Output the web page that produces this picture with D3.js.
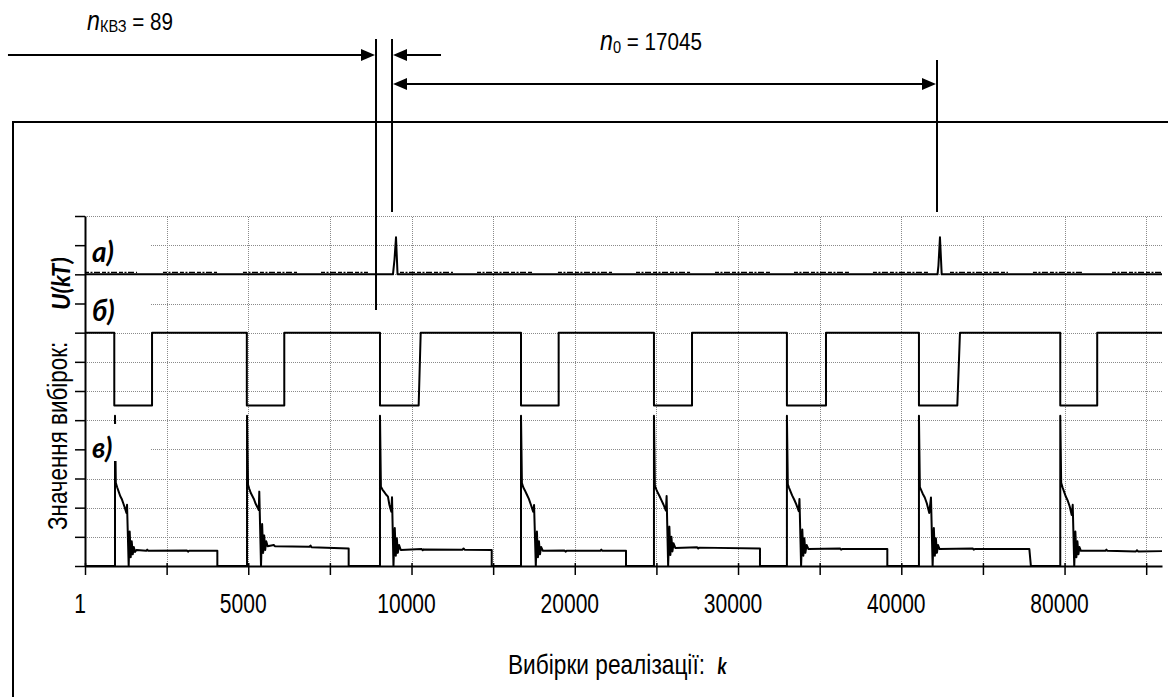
<!DOCTYPE html>
<html>
<head>
<meta charset="utf-8">
<script src="https://cdn.jsdelivr.net/npm/d3@7"></script>
<style>
body { margin: 0; background: #fff; }
svg { display: block; }
text { font-family: "Liberation Sans", Arial, sans-serif; fill: #000; }
.lab { font-family: Lato, "Open Sans", sans-serif; font-weight: bold; font-style: italic; }
</style>
</head>
<body>
<svg id="chart" width="1168" height="697"></svg>
<script>
// x: sample position (80 units per grid cell), y: grid cells
var xGrid = [0, 80, 160, 240, 320, 400, 480, 560, 640, 720, 800, 880, 960, 1040];
var xLabelPos = [0, 160, 320, 480, 640, 800, 960];
var xLabels = ["1", "5000", "10000", "20000", "30000", "40000", "80000"];
var yGrid = [0, 1, 2, 3, 4, 5, 6, 7, 8, 9, 10, 11, 12];

// а) pulse signal
var seriesA = [[0,10],[301.8,10],[303.3,10.5],[304.8,11.27],[306.3,10],
  [835.5,10],[836.4,10.3],[837.9,11.27],[839.6,10],[1055.5,10]];
// а) small noise stretches just above the baseline
var noiseA = [[0,51],[76.4,129.4],[154.8,207.8],[231.3,277.3],[308.7,360.6],[384.2,439],
  [463.5,516.5],[540,593],[617.4,671.3],[694.8,749.7],[772.2,826.1],[847.7,904.5],[929,978],[1006.5,1055.5]];

// б) gate signal
var seriesB = [[0,8],[28.7,8],[28.7,5.5],[65.7,5.5],[65.7,8],[158.6,8],[158.6,5.5],[195.3,5.5],[195.3,8],
  [289.1,8],[289.1,5.5],[327,5.5],[329,8],[427.3,8],[427.3,5.5],[464.2,5.5],[464.2,8],
  [557.6,8],[557.6,5.5],[594.9,5.5],[594.9,8],[687.9,8],[687.9,5.5],[726.2,5.5],[726.2,8],
  [817.3,8],[817.3,5.5],[854.9,5.5],[857.5,8],[955.8,8],[955.8,5.5],[992,5.5],[992,8],[1055.5,8]];

// в) response
var seriesC = [[0,0],[29.4,0],[29.4,5.15],[30.2,2.85],[31.5,2.7],[33,2.55],[34.5,2.4],[36,2.3],[37.5,2.15],[39,2],
  [40.6,1.82],[41.2,2.1],[42.8,0],[43.8,1.18],[44.8,0.3],[45.8,0.85],[46.8,0.4],[47.8,0.65],[49,0.48],[50.5,0.55],
  [60,0.52],[61,0.56],[62,0.52],[100,0.53],[101,0.49],[102,0.52],[129.7,0.52],[129.7,0],
  [158.8,0],[158.8,5.15],[159.8,2.78],[161,2.65],[162.5,2.5],[164,2.4],[165.5,2.3],[167,2.15],[168.5,2.05],[170.3,1.92],
  [170.8,2.55],[172.5,0],[173.6,1.44],[174.6,0.45],[175.6,1.05],[176.6,0.55],[177.6,0.85],[179,0.68],[185,0.72],[186,0.68],
  [220,0.66],[221,0.7],[222,0.64],[258.4,0.6],[258.4,0],
  [289.1,0],[289.1,5.15],[290,2.72],[291.5,2.62],[293,2.55],[295,2.45],[296.9,2.38],[298.3,2.1],[300.2,1.86],
  [300.9,2.36],[302.3,0],[303.6,1.3],[304.6,0.35],[305.6,0.95],[306.6,0.45],[307.8,0.72],[309.5,0.55],
  [330,0.58],[331,0.54],[332,0.57],[370,0.56],[371,0.6],[372,0.56],[398.6,0.55],[398.6,0],
  [427.3,0],[427.3,5.15],[428.2,2.84],[429.5,2.7],[431,2.6],[433,2.45],[435,2.3],[437,2.1],[439.2,1.86],
  [440.1,2.09],[441.8,0],[442.9,1.18],[443.9,0.3],[444.9,0.85],[445.9,0.4],[447,0.65],[448.8,0.52],
  [470,0.53],[471,0.49],[472,0.52],[505,0.52],[506,0.56],[507,0.52],[530.2,0.52],[530.2,0],
  [557.6,0],[557.6,5.15],[558.5,2.75],[560,2.62],[561.5,2.5],[563,2.4],[565,2.25],[567,2.1],[569.3,1.9],
  [570,2.4],[571.5,0],[572.7,1.35],[573.7,0.38],[574.7,1],[575.7,0.5],[576.8,0.78],[578.5,0.62],
  [600,0.64],[601,0.6],[602,0.63],[661.5,0.6],[661.5,0],
  [687.9,0],[687.9,5.15],[688.8,2.8],[690,2.68],[691.5,2.55],[693,2.42],[695,2.28],[697,2.12],[699.5,1.88],
  [700.2,2.3],[701.8,0],[703,1.25],[704,0.35],[705,0.95],[706,0.45],[707.2,0.72],[709,0.58],
  [740,0.6],[741,0.56],[742,0.58],[786.3,0.58],[786.3,0],
  [817.3,0],[817.3,5.15],[818.2,2.7],[819.5,2.6],[821,2.48],[823,2.35],[825,2.15],[827.4,1.82],
  [829.1,2.35],[830.7,0],[831.9,1.3],[832.9,0.35],[833.9,0.95],[834.9,0.45],[836,0.72],[837.5,0.58],
  [870,0.6],[871,0.56],[872,0.58],[925.5,0.58],[927,0],
  [955.8,0],[955.8,5.15],[956.7,2.85],[958,2.7],[959.5,2.55],[961,2.4],[963,2.25],[965,2.05],[967,1.75],
  [968,2.1],[969.5,0],[970.6,1.18],[971.6,0.3],[972.6,0.85],[973.6,0.4],[974.6,0.65],[976,0.52],
  [1000,0.52],[1001,0.56],[1002,0.52],[1030,0.5],[1031,0.54],[1032,0.5],[1055.5,0.51]];

// panel labels: text, baseline (grid units), white box [top, bottom]
var panelLabels = [["а)", 10.42, 11.45, 10.28], ["б)", 8.4, 9.46, 8.36], ["в)", 3.7, 4.87, 3.6]];

// dimension lines above the chart
var nKVZ = 89, n0 = 17045;
var dimLineA = 285.2, dimLineB = 300.9, dimLineC = 835.0;
var arrowLeftStart = -75.5, arrowRightEnd = 348.9;

var svg = d3.select("#chart");
var margin = {left: 85, right: 6, top: 216, bottom: 131};
var W = 1168, H = 697;
var narrow = 0.78; // the original lettering is a condensed face

var x = d3.scaleLinear().domain([0, 1055.5]).range([margin.left, W - margin.right]);
var y = d3.scaleLinear().domain([0, 12]).range([H - margin.bottom, margin.top]);

// frame
svg.append("path").attr("d", "M13,697V122H1168").attr("fill", "none").attr("stroke", "#000").attr("stroke-width", 2);

// grid
var grid = svg.append("g").attr("stroke", "#8a8a8a").attr("stroke-width", 1).attr("stroke-dasharray", "1,1");
grid.selectAll(".gy").data(yGrid.slice(1)).enter().append("line")
  .attr("x1", x(0)).attr("x2", x(1055.5))
  .attr("y1", function (d) { return Math.round(y(d)) + 0.5; })
  .attr("y2", function (d) { return Math.round(y(d)) + 0.5; });
grid.selectAll(".gx").data(xGrid.slice(1)).enter().append("line")
  .attr("y1", y(0)).attr("y2", y(12))
  .attr("x1", function (d) { return Math.round(x(d)) + 0.5; })
  .attr("x2", function (d) { return Math.round(x(d)) + 0.5; });

var line = d3.line()
  .x(function (d) { return x(d[0]); })
  .y(function (d) { return y(d[1]); });

svg.append("g").selectAll("line").data(noiseA).enter().append("line")
  .attr("x1", function (d) { return x(d[0]); })
  .attr("x2", function (d) { return x(d[1]); })
  .attr("y1", y(10) - 2).attr("y2", y(10) - 2)
  .attr("stroke", "#000").attr("stroke-width", 1.3).attr("stroke-dasharray", "4,1.5,2,1.5,6,2");

[seriesA, seriesB, seriesC].forEach(function (s) {
  svg.append("path").datum(s).attr("d", line)
    .attr("fill", "none").attr("stroke", "#000").attr("stroke-width", 2).attr("stroke-linejoin", "round");
});

// panel labels with white backing
panelLabels.forEach(function (p) {
  svg.append("rect").attr("x", 87).attr("width", 64)
    .attr("y", y(p[2])).attr("height", y(p[3]) - y(p[2])).attr("fill", "#fff");
  svg.append("text").attr("class", "lab").attr("x", 92).attr("y", y(p[1]))
    .attr("font-size", 28).text(p[0]);
});

// axes
var yAxis = d3.axisLeft(y).tickValues(yGrid).tickSize(10).tickSizeOuter(0).tickFormat("");
var xAxis = d3.axisBottom(x).tickValues(xGrid).tickSize(9).tickSizeOuter(0).tickFormat("");
var gy = svg.append("g").attr("transform", "translate(" + x(0) + ",0)").call(yAxis);
var gx = svg.append("g").attr("transform", "translate(0," + y(0) + ")").call(xAxis);
[gy, gx].forEach(function (g) {
  g.select(".domain").attr("stroke-width", 2);
  g.selectAll(".tick line").attr("stroke-width", 1.5);
});
gx.selectAll(".tick line").attr("y1", -3);

svg.append("g").selectAll("text").data(xLabelPos).enter().append("text")
  .attr("transform", function (d) { return "translate(" + (x(d) - 5) + ",613) scale(" + narrow + ",1)"; })
  .attr("text-anchor", "middle").attr("font-size", 27)
  .text(function (d, i) { return xLabels[i]; });

var title = svg.append("text").attr("transform", "translate(508,674) scale(0.84,1)").attr("font-size", 27);
title.append("tspan").text("Вибірки реалізації:\u00a0\u00a0");
title.append("tspan").attr("class", "lab").attr("font-size", 22).text("k");

svg.append("text").attr("transform", "translate(67,530) rotate(-90) scale(0.8,1)")
  .attr("font-size", 28).text("Значення вибірок:");
svg.append("text").attr("class", "lab").attr("transform", "translate(70,310) rotate(-90)")
  .attr("font-size", 24).text("U(kT)");

// dimension annotations
var dim = svg.append("g").attr("stroke", "#000").attr("stroke-width", 2);
function vline(xv, y1, y2) {
  dim.append("line").attr("x1", x(xv)).attr("x2", x(xv)).attr("y1", y1).attr("y2", y2);
}
function head(tip, yy, dir) {
  svg.append("path")
    .attr("d", "M" + tip + "," + yy + "L" + (tip - dir * 14) + "," + (yy - 6) + "L" + (tip - dir * 14) + "," + (yy + 6) + "Z")
    .attr("fill", "#000");
}
vline(dimLineA, 39, 310);
vline(dimLineB, 39, 212);
vline(dimLineC, 60, 212);
dim.append("line").attr("x1", x(arrowLeftStart)).attr("x2", x(dimLineA) - 4).attr("y1", 55).attr("y2", 55);
head(x(dimLineA) - 1, 55, 1);
dim.append("line").attr("x1", x(dimLineB) + 4).attr("x2", x(arrowRightEnd)).attr("y1", 55).attr("y2", 55);
head(x(dimLineB) + 1, 55, -1);
dim.append("line").attr("x1", x(dimLineB) + 4).attr("x2", x(dimLineC) - 4).attr("y1", 84).attr("y2", 84);
head(x(dimLineB) + 1, 84, -1);
head(x(dimLineC) - 1, 84, 1);

var t1 = svg.append("text").attr("transform", "translate(87,30) scale(0.86,1)").attr("font-size", 24);
t1.append("tspan").attr("font-style", "italic").attr("font-size", 27).text("n");
t1.append("tspan").attr("font-size", 17).attr("dy", 2).text("КВЗ");
t1.append("tspan").attr("dy", -2).text(" = " + nKVZ);

var t2 = svg.append("text").attr("transform", "translate(600,50) scale(0.86,1)").attr("font-size", 24);
t2.append("tspan").attr("font-style", "italic").attr("font-size", 27).text("n");
t2.append("tspan").attr("font-size", 17).attr("dy", 3).text("0");
t2.append("tspan").attr("dy", -3).text(" = " + n0);
</script>
</body>
</html>
